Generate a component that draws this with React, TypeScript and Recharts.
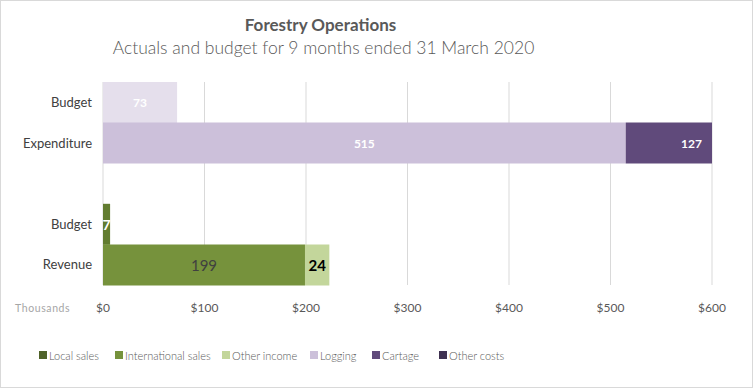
import React from 'react';
import { BarChart, Bar, XAxis, YAxis, CartesianGrid, Legend, LabelList, Cell } from 'recharts';

const FONT = "Lato, 'Open Sans', sans-serif";

// Rows (top to bottom); the empty row is the visual gap between the two groups
const categories = ['Budget', 'Expenditure', '', 'Budget', 'Revenue'];

// Series values (thousands of dollars)
const localSales = [null, null, null, 7, null];
const internationalSales = [null, null, null, null, 199];
const otherIncome = [null, null, null, null, 24];
const logging = [73, 515, null, null, null];
const cartage = [null, 127, null, null, null];
const otherCosts = [null, null, null, null, null];

const xTicks = [0, 100, 200, 300, 400, 500, 600];

const data = categories.map((category, i) => ({
  category,
  localSales: localSales[i],
  internationalSales: internationalSales[i],
  otherIncome: otherIncome[i],
  logging: logging[i],
  cartage: cartage[i],
  otherCosts: otherCosts[i],
}));

type LabelStyle = { fill: string; fontSize: number; fontWeight: string | number; atEnd?: boolean };

type SeriesDef = {
  key: string;
  name: string;
  color: string;
  cellColors?: Record<number, string>;
  label?: LabelStyle;
};

const SERIES: SeriesDef[] = [
  { key: 'localSales', name: 'Local sales', color: '#4f6228', cellColors: { 3: '#627c30' }, label: { fill: '#ffffff', fontSize: 14, fontWeight: 700 } },
  { key: 'internationalSales', name: 'International sales', color: '#76923c', label: { fill: '#404040', fontSize: 15, fontWeight: 400 } },
  { key: 'otherIncome', name: 'Other income', color: '#c3d69b', label: { fill: '#000000', fontSize: 15, fontWeight: 700 } },
  { key: 'logging', name: 'Logging', color: '#ccc0da', cellColors: { 0: '#e5dfec' }, label: { fill: '#ffffff', fontSize: 12, fontWeight: 700 } },
  { key: 'cartage', name: 'Cartage', color: '#604a7b', label: { fill: '#ffffff', fontSize: 12, fontWeight: 700, atEnd: true } },
  { key: 'otherCosts', name: 'Other costs', color: '#3f3151' },
];

const LEGEND_X = [39, 115, 222, 310, 372, 439];

const makeLabel = (style: LabelStyle) => (props: any) => {
  const { value } = props;
  if (value === null || value === undefined) return null;
  const vb = props.viewBox && props.viewBox.width !== undefined ? props.viewBox : props;
  const bx = Number(vb.x);
  const bw = Number(vb.width);
  const x = style.atEnd ? bx + bw - 10 : bx + bw / 2;
  const y = Number(vb.y) + Number(vb.height) / 2;
  return (
    <text
      x={x}
      y={y}
      textAnchor={style.atEnd ? 'end' : 'middle'}
      dominantBaseline="central"
      fill={style.fill}
      fontSize={style.fontSize}
      fontWeight={style.fontWeight}
      fontFamily={FONT}
    >
      {value}
    </text>
  );
};

const LegendContent = () => (
  <div style={{ position: 'relative', width: 756, height: 20, fontFamily: FONT }}>
    {SERIES.map((s, i) => (
      <div
        key={s.key}
        style={{
          position: 'absolute',
          left: LEGEND_X[i],
          top: 0,
          height: 20,
          display: 'flex',
          alignItems: 'center',
          whiteSpace: 'nowrap',
        }}
      >
        <span style={{ display: 'inline-block', width: 8, height: 8, background: s.color, marginRight: 2 }} />
        <span style={{ fontSize: 11, color: '#595959', fontWeight: 300 }}>{s.name}</span>
      </div>
    ))}
  </div>
);

export default function App() {
  return (
    <div style={{ position: 'fixed', left: 0, top: 0, width: 756, height: 388, background: '#ffffff', fontFamily: FONT }}>
      <div style={{ position: 'absolute', left: 0, top: 0, width: 751, height: 386, border: '1px solid #d9d9d9' }} />
      <div
        style={{
          position: 'absolute',
          left: 0,
          width: 641,
          top: 15,
          textAlign: 'center',
          fontSize: 17,
          fontWeight: 700,
          color: '#595959',
          lineHeight: '20px',
        }}
      >
        Forestry Operations
      </div>
      <div
        style={{
          position: 'absolute',
          left: 0,
          width: 647,
          top: 37,
          textAlign: 'center',
          fontSize: 17.5,
          fontWeight: 300,
          color: '#595959',
          lineHeight: '22px',
        }}
      >
        Actuals and budget for 9 months ended 31 March 2020
      </div>
      <div
        style={{
          position: 'absolute',
          left: 15,
          top: 301,
          fontSize: 10.5,
          color: '#a6a6a6',
          letterSpacing: 0.6,
          lineHeight: '14px',
        }}
      >
        Thousands
      </div>
      <div style={{ position: 'absolute', left: 0, top: 0 }}>
        <BarChart
          width={756}
          height={388}
          data={data}
          layout="vertical"
          barCategoryGap={0}
          margin={{ top: 82, right: 44, bottom: 73, left: 0 }}
        >
          <CartesianGrid horizontal={false} vertical stroke="#d9d9d9" />
          <XAxis
            type="number"
            domain={[0, 600]}
            ticks={xTicks}
            allowDataOverflow
            tickFormatter={(v: number) => `$${v}`}
            axisLine={false}
            tickLine={false}
            tickSize={6}
            tickMargin={12}
            height={30}
            tick={{ fill: '#595959', fontSize: 12, fontFamily: FONT }}
          />
          <YAxis
            type="category"
            dataKey="category"
            width={103}
            axisLine={false}
            tickLine={false}
            tickSize={6}
            tickMargin={5}
            interval={0}
            tick={{ fill: '#404040', fontSize: 13, fontFamily: FONT }}
          />
          <Legend
            layout="horizontal"
            verticalAlign="middle"
            align="center"
            content={<LegendContent />}
            wrapperStyle={{ position: 'absolute', left: 0, top: 345, width: 756, height: 20 }}
          />
          {SERIES.map((s) => (
            <Bar key={s.key} dataKey={s.key} name={s.name} stackId="a" fill={s.color} isAnimationActive={false}>
              {data.map((_, i) => (
                <Cell key={i} fill={(s.cellColors && s.cellColors[i]) || s.color} />
              ))}
              {s.label && <LabelList dataKey={s.key} content={makeLabel(s.label)} />}
            </Bar>
          ))}
        </BarChart>
      </div>
    </div>
  );
}
